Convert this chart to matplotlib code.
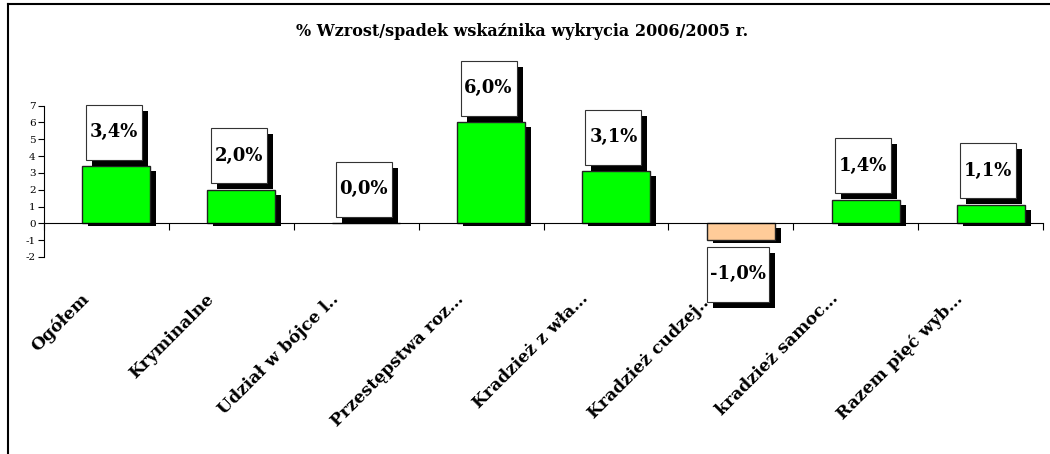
import matplotlib
matplotlib.use("Agg")
import matplotlib.pyplot as plt
import numpy as np
from matplotlib.patches import Rectangle
from matplotlib.lines import Line2D
from matplotlib.transforms import ScaledTranslation

categories = ["Ogółem", "Kryminalne", "Udział w bójce l..", "Przestępstwa roz…",
              "Kradzież z wła…", "Kradzież cudzej…", "kradzież samoc…", "Razem pięć wyb…"]
values = [3.4, 2.0, 0.0, 6.0, 3.1, -1.0, 1.4, 1.1]
labels = ["3,4%", "2,0%", "0,0%", "6,0%", "3,1%", "-1,0%", "1,4%", "1,1%"]

plt.rcParams['font.family'] = 'DejaVu Serif'
plt.rcParams['axes.unicode_minus'] = False

fig = plt.figure(figsize=(10.5, 4.54), dpi=100)
ax = fig.add_axes([44 / 1050, 1 - 257 / 454, 999 / 1050, 151.5 / 454])

x = np.arange(len(values))
bar_off = 0.08
bar_w = 0.544
px_x = 1 / 124.9       # one pixel in x data units
px_y = 9 / 151.5       # one pixel in y data units

# shadows under the bars (none for a zero bar)
vals = np.array(values)
sh_bottom = np.minimum(vals, 0) - 3 * px_y
sh_top = np.maximum(vals, 0) - 5 * px_y
sh_h = np.where(vals == 0, 0, sh_top - sh_bottom)
ax.bar(x + bar_off + 6 * px_x, sh_h, width=bar_w, bottom=sh_bottom,
       color='black', linewidth=0, zorder=1)
colors = ['#00FF00' if v >= 0 else '#FFCC99' for v in values]
ax.bar(x + bar_off, values, width=bar_w, color=colors, edgecolor='#222222',
       linewidth=1, zorder=2)

# boxed value labels with shadow
box_h = 55 * px_y
gap = 6.5 * px_y
for i, (v, lab) in enumerate(zip(values, labels)):
    w = (56 + 6 * (len(lab) - 4)) * px_x
    cx = i + bar_off - 2.5 * px_x
    y0 = v + gap if v >= 0 else v - gap - box_h
    ax.add_patch(Rectangle((cx - w / 2 + 6 * px_x, y0 - 6 * px_y), w, box_h,
                           facecolor='black', edgecolor='none', zorder=3, clip_on=False))
    ax.add_patch(Rectangle((cx - w / 2, y0), w, box_h, facecolor='white',
                           edgecolor='#333333', linewidth=0.8, zorder=4, clip_on=False))
    ax.text(cx, y0 + box_h / 2, lab, ha='center', va='center', fontsize=13,
            fontweight='bold', zorder=5, clip_on=False)

ax.set_xlim(-0.5, len(values) - 0.5)
ax.set_ylim(-2, 7)
ax.set_yticks(range(-2, 8))
ax.tick_params(axis='y', labelsize=7.5, length=4, width=0.8, pad=2)

ax.spines['top'].set_visible(False)
ax.spines['right'].set_visible(False)
ax.spines['bottom'].set_position(('data', 0))
ax.spines['bottom'].set_linewidth(0.8)
ax.spines['left'].set_linewidth(0.8)
ax.spines['bottom'].set_zorder(6)

ax.set_xticks(x)
ax.set_xticks(np.arange(-0.5, len(values), 1.0), minor=True)
ax.set_xticklabels(categories, rotation=45, ha='right', va='center',
                   rotation_mode='anchor', fontsize=12.3, fontweight='bold')
ax.tick_params(axis='x', which='major', length=0, pad=52.5)
ax.tick_params(axis='x', which='minor', length=5, width=0.8)
for lbl in ax.get_xticklabels():
    lbl.set_transform(lbl.get_transform() + ScaledTranslation(-0.20, 0, fig.dpi_scale_trans))

fig.text(0.497, 1 - 32 / 454, "% Wzrost/spadek wskaźnika wykrycia 2006/2005 r.",
         ha='center', va='center', fontsize=11.5, fontweight='bold')

# outer chart frame
fig.add_artist(Line2D([8 / 1050, 1], [1 - 3.5 / 454] * 2, color='black', lw=1.5,
                      transform=fig.transFigure))
fig.add_artist(Line2D([8 / 1050] * 2, [0, 1 - 3.5 / 454], color='black', lw=1.5,
                      transform=fig.transFigure))

fig.savefig("out.png", dpi=100)
